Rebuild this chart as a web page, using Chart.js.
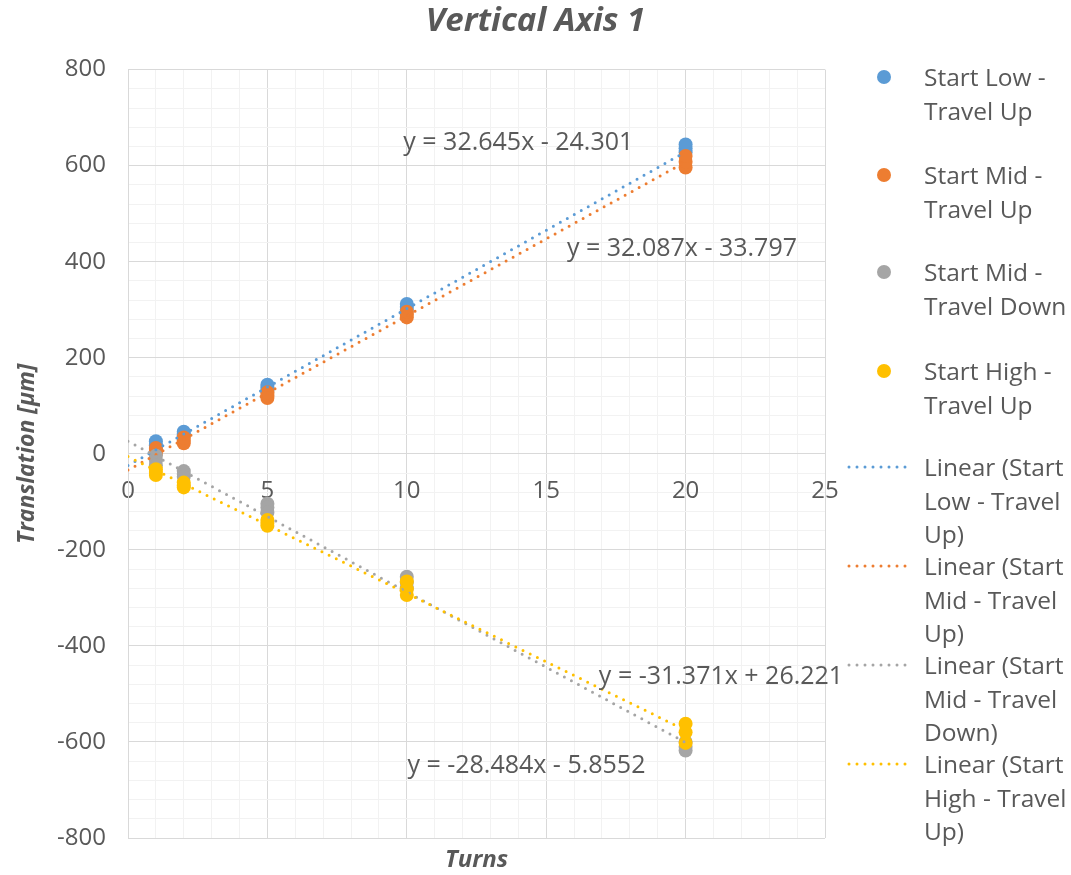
<!DOCTYPE html>
<html>
<head>
<meta charset="utf-8">
<script src="https://cdn.jsdelivr.net/npm/chart.js@4"></script>
<style>
body { margin: 0; background: #fff; font-family: 'Open Sans', sans-serif; }
#wrap { position: relative; width: 1071px; height: 875px; }
.leg { position: absolute; left: 924px; font-size: 24.5px; line-height: 33.5px; color: #595959; white-space: nowrap; }
.dot { position: absolute; left: 877px; width: 14px; height: 14px; border-radius: 50%; }
.dash { position: absolute; left: 846px; }
</style>
</head>
<body>
<div id="wrap">
  <canvas id="chart" width="1071" height="875"></canvas>
</div>
<script>
// number of turns for each reading (three runs per series)
const turns = [1, 2, 5, 10, 20, 1, 2, 5, 10, 20, 1, 2, 5, 10, 20];

const lowUp    = [10, 38, 132, 300, 628,   18, 42, 138, 306, 636,   26, 46, 144, 312, 644];
const midUp    = [0, 22, 116, 284, 596,    6, 28, 122, 290, 608,    12, 34, 128, 296, 620];
const midDown  = [-4, -36, -104, -256, -600,  -14, -42, -112, -268, -610,  -24, -48, -122, -280, -618];
const highUp   = [-32, -60, -138, -266, -562,  -38, -66, -144, -282, -580,  -44, -70, -150, -294, -602];

const seriesNames = ['Start Low - Travel Up', 'Start Mid - Travel Up', 'Start Mid - Travel Down', 'Start High - Travel Up'];
const seriesData = [lowUp, midUp, midDown, highUp];
const colors = ['#5B9BD5', '#ED7D31', '#A5A5A5', '#FFC000'];

// trendline coefficients as printed on the chart
const slopes = [32.645, 32.087, -31.371, -28.484];
const intercepts = [-24.301, -33.797, 26.221, -5.8552];
const fitRange = [0, 20];
const eqText = ['y = 32.645x - 24.301', 'y = 32.087x - 33.797', 'y = -31.371x + 26.221', 'y = -28.484x - 5.8552'];
const eqAnchor = [[14.0, 648], [19.87, 427], [21.27, -465], [14.29, -650]];

// legend text, already broken the way the original wraps it
const legendLines = [
  ['Start Low -', 'Travel Up'],
  ['Start Mid -', 'Travel Up'],
  ['Start Mid -', 'Travel Down'],
  ['Start High -', 'Travel Up'],
  ['Linear (Start', 'Low - Travel', 'Up)'],
  ['Linear (Start', 'Mid - Travel', 'Up)'],
  ['Linear (Start', 'Mid - Travel', 'Down)'],
  ['Linear (Start', 'High - Travel', 'Up)']
];
const legendY = [77, 175, 272, 371, 467, 566, 665, 764];

Chart.defaults.font.family = "'Open Sans', sans-serif";
Chart.defaults.color = '#595959';

const datasets = [];
seriesData.forEach((vals, i) => {
  datasets.push({
    label: seriesNames[i],
    data: vals.map((v, j) => ({ x: turns[j], y: v })),
    backgroundColor: colors[i],
    borderWidth: 0,
    pointRadius: 7,
    pointHoverRadius: 7,
    order: 10 - i
  });
});
seriesData.forEach((vals, i) => {
  datasets.push({
    label: 'Linear (' + seriesNames[i] + ')',
    data: fitRange.map(x => ({ x: x, y: slopes[i] * x + intercepts[i] })),
    showLine: true,
    borderColor: colors[i],
    borderWidth: 3,
    borderDash: [0, 8],
    borderCapStyle: 'round',
    pointRadius: 0,
    order: 4 - i
  });
});

const gridColor = c => (c.tick && Math.abs(c.tick.value) % 5 === 0) ? '#d9d9d9' : '#f2f2f2';
const gridColorY = c => (c.tick && Math.abs(c.tick.value) % 200 === 0) ? '#d9d9d9' : '#f2f2f2';

const eqPlugin = {
  id: 'eqLabels',
  afterDatasetsDraw(chart) {
    const { ctx, scales } = chart;
    ctx.save();
    ctx.font = "25px 'Open Sans'";
    ctx.fillStyle = '#595959';
    ctx.textAlign = 'center';
    ctx.textBaseline = 'middle';
    eqText.forEach((t, i) => {
      ctx.fillText(t, scales.x.getPixelForValue(eqAnchor[i][0]), scales.y.getPixelForValue(eqAnchor[i][1]));
    });
    ctx.restore();
  }
};

new Chart(document.getElementById('chart'), {
  type: 'scatter',
  data: { datasets: datasets },
  options: {
    responsive: false,
    animation: false,
    plugins: {
      legend: { display: false },
      tooltip: { enabled: false },
      title: {
        display: true,
        text: 'Vertical Axis 1',
        color: '#595959',
        font: { size: 33, weight: 'bold', style: 'italic' },
        padding: { top: 2, bottom: 28 }
      }
    },
    scales: {
      x: {
        type: 'linear',
        position: { y: 0 },
        min: 0, max: 25,
        ticks: {
          stepSize: 1, autoSkip: false, maxRotation: 0, padding: 23,
          font: { size: 24 }, color: '#595959',
          callback: v => v % 5 === 0 ? v : ''
        },
        grid: { color: gridColor, drawTicks: false },
        border: { color: '#d9d9d9' }
      },
      x2: {
        type: 'linear',
        position: 'bottom',
        min: 0, max: 25,
        ticks: { display: false },
        grid: { display: false },
        border: { display: false },
        title: {
          display: true, text: 'Turns', color: '#595959',
          font: { size: 24, weight: 'bold', style: 'italic' },
          padding: { top: 0, bottom: 0 }
        },
        afterFit: s => { s.height = 37; }
      },
      y: {
        type: 'linear',
        position: 'left',
        min: -800, max: 800,
        ticks: {
          stepSize: 40, autoSkip: false, padding: 22,
          font: { size: 24 }, color: '#595959',
          callback: v => v % 200 === 0 ? v : ''
        },
        grid: { color: gridColorY, drawTicks: false },
        border: { color: '#d9d9d9' },
        title: {
          display: true, text: 'Translation [µm]', color: '#595959',
          font: { size: 23, weight: 'bold', style: 'italic' },
          padding: { top: 14, bottom: 0 }
        },
        afterFit: s => { s.width = 128; }
      },
      yR: {
        type: 'linear',
        position: 'right',
        min: 0, max: 1,
        ticks: { display: false },
        grid: { display: false },
        border: { display: false },
        afterFit: s => { s.width = 246; }
      }
    }
  },
  plugins: [eqPlugin]
});

// html legend on the right
const wrap = document.getElementById('wrap');
legendLines.forEach((lines, i) => {
  const yc = legendY[i];
  const txt = document.createElement('div');
  txt.className = 'leg';
  txt.style.top = (yc - 16.75) + 'px';
  txt.innerHTML = lines.join('<br>');
  wrap.appendChild(txt);
  const ci = i % 4;
  if (i < 4) {
    const d = document.createElement('div');
    d.className = 'dot';
    d.style.top = (yc - 7) + 'px';
    d.style.background = colors[ci];
    wrap.appendChild(d);
  } else {
    const ns = 'http://www.w3.org/2000/svg';
    const svg = document.createElementNS(ns, 'svg');
    svg.setAttribute('class', 'dash');
    svg.setAttribute('width', '70');
    svg.setAttribute('height', '6');
    svg.style.top = (yc - 3) + 'px';
    const ln = document.createElementNS(ns, 'line');
    ln.setAttribute('x1', '3'); ln.setAttribute('y1', '3');
    ln.setAttribute('x2', '67'); ln.setAttribute('y2', '3');
    ln.setAttribute('stroke', colors[ci]);
    ln.setAttribute('stroke-width', '3');
    ln.setAttribute('stroke-linecap', 'round');
    ln.setAttribute('stroke-dasharray', '0 8');
    svg.appendChild(ln);
    wrap.appendChild(svg);
  }
});
</script>
</body>
</html>
